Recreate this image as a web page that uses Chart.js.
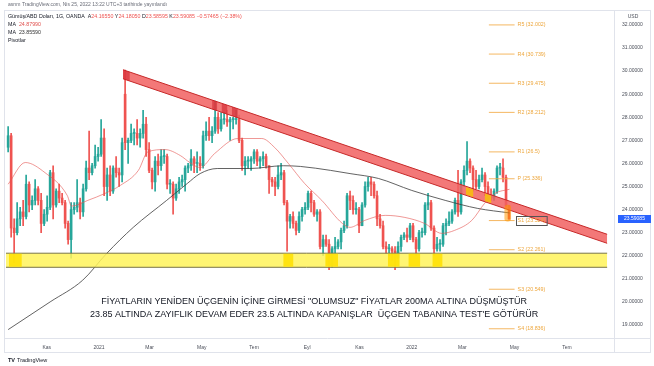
<!DOCTYPE html>
<html><head><meta charset="utf-8">
<script src="https://cdn.jsdelivr.net/npm/chart.js@4.4.1/dist/chart.umd.min.js"></script>
<style>html,body{margin:0;padding:0;background:#fff;}#wrap{width:654px;height:366px;}</style>
</head><body><div id="wrap"><canvas id="c" width="654" height="366"></canvas></div>
<script>
// ---- data; one candle ~ half a week, day 0 = 1 Jan 2021 ----
const firstCandleDay = -106;
const candleStepDays = 3.5;
const opens = [
26.7,27.2,23.2,23.0,23.6,23.9,23.7,25.1,24.2,24.4,
24.9,24.4,23.4,23.8,24.1,25.6,24.2,24.8,24.5,24.3,
23.4,22.7,24.0,24.1,24.3,23.9,24.9,25.8,25.6,25.9,
26.3,26.4,27.1,25.0,25.5,24.8,25.8,25.6,25.5,29.0,
26.9,27.0,27.3,27.3,27.1,27.3,27.7,26.6,25.7,25.2,
26.1,25.9,26.3,26.3,25.1,25.1,24.5,24.9,25.2,25.3,
25.8,25.9,26.2,26.0,26.0,25.9,27.2,27.4,27.2,27.4,
28.0,27.5,27.9,27.9,27.8,27.9,27.9,27.9,27.0,25.9,
26.1,26.1,26.2,26.5,26.1,26.2,26.3,25.9,25.3,25.2,
25.0,25.5,25.6,24.3,23.5,23.7,23.4,23.1,23.7,24.0,
24.1,24.7,24.3,23.8,23.9,22.4,22.7,22.5,21.6,22.3,
22.4,22.6,23.1,23.3,24.6,24.4,24.0,24.0,23.3,24.2,
25.0,25.2,25.1,24.6,23.6,23.3,22.4,22.3,22.3,22.2,
21.9,22.4,22.8,22.9,22.8,23.3,22.7,22.3,23.0,23.0,
24.2,24.3,23.2,22.3,22.5,22.5,23.3,23.4,23.5,23.9,
24.4,23.9,25.2,25.7,26.1,25.8,25.3,25.0,25.3,25.5,
25.0,24.6,24.5,24.8,25.8,25.8,25.4,24.1655];
const highs = [
27.6,27.3,23.6,24.3,24.1,24.4,25.5,25.2,24.6,25.3,
25.0,24.7,24.0,24.6,25.7,25.9,24.9,25.1,24.7,24.4,
23.5,24.3,24.3,25.3,24.5,25.1,26.1,27.4,26.0,26.8,
26.7,27.9,27.5,25.8,25.9,25.9,26.3,25.8,27.1,30.05,
27.1,27.7,27.5,27.9,27.5,28.3,28.0,26.9,25.8,26.3,
26.4,26.6,26.6,26.4,25.3,25.2,25.1,25.4,25.5,25.9,
26.0,26.6,26.3,26.5,26.3,27.4,27.8,28.0,27.6,28.7,
28.2,28.2,28.2,28.3,28.0,28.0,28.3,28.1,27.1,26.3,
26.3,26.3,26.6,26.6,26.3,26.5,26.4,25.9,25.4,25.4,
25.9,26.0,25.7,24.4,23.8,23.9,23.5,23.9,24.1,24.3,
24.8,24.8,24.4,24.0,24.0,22.9,22.9,22.7,22.4,22.8,
22.7,23.2,23.5,24.7,24.8,24.6,24.3,24.1,24.3,25.2,
25.4,25.4,25.2,24.8,23.8,23.5,22.6,22.5,22.4,22.4,
22.6,22.9,23.0,23.2,23.4,23.4,22.8,23.1,23.2,24.3,
24.7,24.4,23.3,22.8,22.7,23.4,23.6,23.9,24.0,24.5,
25.7,25.3,25.9,26.95,26.2,25.9,25.7,25.5,25.8,25.6,
25.2,24.9,24.9,25.9,26.0,26.2,25.5,24.1805];
const lows = [
26.5,22.8,21.7,22.9,23.3,23.3,23.6,23.9,24.0,24.2,
24.2,23.0,23.3,23.5,24.0,23.6,24.1,24.3,24.2,23.2,
22.5,21.9,23.8,23.9,23.6,23.7,24.8,25.3,25.5,25.8,
26.1,26.3,24.6,24.4,24.6,24.7,25.4,25.0,25.2,26.6,
26.0,26.9,26.8,26.8,26.7,27.1,26.3,25.6,24.9,24.8,
25.5,25.7,26.0,24.9,24.7,23.8,24.4,24.7,25.0,24.8,
25.6,25.7,25.6,25.6,25.7,25.8,27.0,27.0,26.9,27.3,
27.3,27.4,27.7,27.6,27.0,27.5,27.7,26.9,25.7,25.5,
25.8,25.7,26.0,25.9,25.8,25.9,25.8,24.7,25.0,24.6,
24.9,25.3,24.2,22.2,23.2,23.2,22.9,23.0,23.5,23.8,
24.0,23.9,23.7,23.5,22.3,22.0,22.4,21.4,21.5,22.1,
22.3,22.3,23.0,23.2,24.0,23.8,23.8,23.0,23.3,24.1,
24.8,24.6,24.5,23.3,23.2,22.3,22.1,22.0,21.8,21.4,
21.9,22.2,22.7,22.6,22.7,22.6,22.0,22.2,22.8,22.9,
24.0,23.1,22.0,22.2,22.2,22.4,22.9,23.3,23.4,23.8,
23.7,23.8,25.0,25.5,25.6,24.8,24.9,24.9,25.2,24.6,
24.5,24.4,24.4,24.7,25.5,25.2,24.1,23.58595];
const closes = [
27.2,23.2,23.0,23.6,23.9,23.7,25.1,24.2,24.4,24.9,
24.4,23.4,23.8,24.1,25.6,24.2,24.8,24.5,24.3,23.4,
22.7,24.0,24.1,24.3,23.9,24.9,25.8,25.6,25.9,26.3,
26.4,27.1,25.0,25.5,24.8,25.8,25.6,25.5,26.9,26.9,
27.0,27.3,27.3,27.1,27.3,27.7,26.6,25.7,25.2,26.1,
25.9,26.3,26.3,25.1,25.1,24.5,24.9,25.2,25.3,25.8,
25.9,26.2,26.0,26.0,25.9,27.2,27.4,27.2,27.4,28.0,
27.5,27.9,27.9,27.8,27.9,27.9,27.9,27.0,25.9,26.1,
26.1,26.2,26.5,26.1,26.2,26.3,25.9,25.3,25.2,25.0,
25.5,25.6,24.3,23.5,23.7,23.4,23.1,23.7,24.0,24.1,
24.7,24.3,23.8,23.9,22.4,22.7,22.5,21.6,22.3,22.4,
22.6,23.1,23.3,24.6,24.4,24.0,24.0,23.3,24.2,25.0,
25.2,25.1,24.6,23.6,23.3,22.4,22.3,22.3,22.2,21.9,
22.4,22.8,22.9,22.8,23.3,22.7,22.3,23.0,23.0,24.2,
24.3,23.2,22.3,22.5,22.5,23.3,23.4,23.5,23.9,24.4,
23.9,25.2,25.7,26.1,25.8,25.3,25.0,25.3,25.5,25.0,
24.6,24.5,24.8,25.8,25.8,25.4,24.1655,23.59085];

const ma50Days = [-106,-86,-63,-37,-32,-13,7,25,46,57,77,95,106,118,135,162,190,205,221,240,260,284,293,310,334,357,380,400,415,435,450,462,479];
const ma50Vals = [25.10,26.04,25.60,24.61,24.15,24.40,24.70,25.05,25.70,26.50,26.60,26.34,26.04,25.82,26.43,27.08,27.08,26.69,26.00,25.13,24.40,23.40,23.23,23.53,23.75,23.66,23.40,22.97,23.10,23.53,24.27,24.70,24.8799];
const ma200Days = [-106,-57,-19,9,40,79,103,118,138,176,215,235,270,293,326,365,404,442,479];
const ma200Vals = [18.80,20.00,20.94,22.10,23.23,24.40,25.13,25.56,25.78,25.78,25.90,25.87,25.70,25.56,25.35,24.83,24.40,24.05,23.8559];

const xTickDays = [-61,0,59,120,181,243,304,365,424,485,546];
const xTickLabels = ['Kas','2021','Mar','May','Tem','Eyl','Kas','2022','Mar','May','Tem'];
const yTickValues = [19,20,21,22,23,24,25,26,27,28,29,30,31,32];

const pivotNames = ['R5','R4','R3','R2','R1','P','S1','S2','S3','S4'];
const pivotValues = [32.002,30.739,29.475,28.212,26.5,25.336,23.524,22.261,20.549,18.836];
const pivotDays = [455,485];

const triangleDays = [28,593];
const triangleTop = [30.06,22.93];
const triangleBottom = [29.67,22.54];
const triangleDark = [[28,36],[132,138],[143,150],[155,162]];
const triangleOrange = [[428,437],[450,458]];

const zoneDays = [-108.5,593];
const zonePrices = [22.11,21.50];
const zoneTouches = [[-105,-90],[215,227],[264,279],[337,351],[361,375],[389,401]];

const markerDay = 477;
const markerRange = [23.50,24.20];

const noteDay = 251;
const notePrices = [20.03,19.45];
const noteLines = [
 'FİYATLARIN YENİDEN ÜÇGENİN İÇİNE GİRMESİ "OLUMSUZ" FİYATLAR 200MA ALTINA DÜŞMÜŞTÜR',
 "23.85 ALTINDA ZAYIFLIK DEVAM EDER 23.5 ALTINDA KAPANIŞLAR  ÜÇGEN TABANINA TEST'E GÖTÜRÜR"];

// ---- build datasets ----
const UP = '#26a69a', DN = '#ef5350';
const days = opens.map((_, i) => firstCandleDay + i * candleStepDays);
const cColors = opens.map((o, i) => closes[i] >= o ? UP : DN);
const datasets = [];

datasets.push({type:'line', label:'MA50', data: ma50Days.map((d,i)=>({x:d,y:ma50Vals[i]})),
  borderColor:'rgba(229,83,80,0.6)', borderWidth:1, pointRadius:0, cubicInterpolationMode:'monotone', order:2});
datasets.push({type:'line', label:'MA200', data: ma200Days.map((d,i)=>({x:d,y:ma200Vals[i]})),
  borderColor:'rgba(60,60,60,0.8)', borderWidth:1, pointRadius:0, cubicInterpolationMode:'monotone', order:2});
datasets.push({type:'bar', label:'wick', data: days.map((d,i)=>({x:d,y:[lows[i],highs[i]]})),
  backgroundColor:cColors, barThickness:1, grouped:false, order:6});
datasets.push({type:'bar', label:'body', data: days.map((d,i)=>({x:d,y:[opens[i],closes[i]]})),
  backgroundColor:cColors, barThickness:2, grouped:false, minBarLength:1, order:5});

pivotValues.forEach((v)=>{
  datasets.push({type:'line', data: pivotDays.map(d=>({x:d,y:v})), borderColor:'rgba(242,170,70,0.85)', borderWidth:1, pointRadius:0, order:3});
});

function addBand(d0,d1,t0,t1,b0,b1,fillColor,lineColor,order){
  datasets.push({type:'line', data:[{x:d0,y:t0},{x:d1,y:t1}], borderColor:lineColor||'rgba(0,0,0,0)', borderWidth:lineColor?1:0, pointRadius:0, fill:false, order});
  datasets.push({type:'line', data:[{x:d0,y:b0},{x:d1,y:b1}], borderColor:lineColor||'rgba(0,0,0,0)', borderWidth:lineColor?1:0, pointRadius:0, fill:'-1', backgroundColor:fillColor, order});
}
// yellow support zone
addBand(zoneDays[0],zoneDays[1],zonePrices[0],zonePrices[0],zonePrices[1],zonePrices[1],'rgba(255,243,90,0.85)','#7a7548',1);
zoneTouches.forEach(([a,b])=> addBand(a,b,zonePrices[0]-0.02,zonePrices[0]-0.02,zonePrices[1]+0.02,zonePrices[1]+0.02,'rgba(255,225,0,0.85)',null,0.5));
// triangle line
addBand(triangleDays[0],triangleDays[1],triangleTop[0],triangleTop[1],triangleBottom[0],triangleBottom[1],'rgba(241,96,96,0.85)','#c62828',1);
const lerp = (arr,d)=> arr[0] + (arr[1]-arr[0])*(d-triangleDays[0])/(triangleDays[1]-triangleDays[0]);
triangleDark.forEach(([a,b])=> addBand(a,b,lerp(triangleTop,a),lerp(triangleTop,b),lerp(triangleBottom,a),lerp(triangleBottom,b),'rgba(205,30,40,0.55)',null,0.5));
triangleOrange.forEach(([a,b])=> addBand(a,b,lerp(triangleTop,a)-0.03,lerp(triangleTop,b)-0.03,lerp(triangleBottom,a)+0.03,lerp(triangleBottom,b)+0.03,'rgba(247,185,20,0.95)',null,0.5));
// orange marker on last candles
datasets.push({type:'bar', data:[{x:markerDay,y:markerRange}], backgroundColor:'rgba(255,152,0,0.55)', barThickness:6, borderRadius:3, borderSkipped:false, grouped:false, order:0});

// ---- overlay texts / frame ----
const FONT = '"Liberation Sans", Arial, sans-serif';
const overlay = {
  id:'overlay',
  afterDraw(chart){
    const ctx = chart.ctx, xs = chart.scales.x, ys = chart.scales.y, ca = chart.chartArea;
    ctx.save();
    ctx.strokeStyle = '#e0e3eb'; ctx.lineWidth = 1;
    ctx.strokeRect(4.5, 10.5, 646, 342);
    ctx.beginPath(); ctx.moveTo(ca.right+0.5, 10); ctx.lineTo(ca.right+0.5, 353);
    ctx.moveTo(4, ca.bottom+0.5); ctx.lineTo(651, ca.bottom+0.5); ctx.stroke();

    ctx.textBaseline = 'middle';
    ctx.font = '5px ' + FONT; ctx.fillStyle = '#6a6d78'; ctx.textAlign = 'left';
    ctx.fillText('asrım TradingView.com, Nis 25, 2022 13:22 UTC+3 tarihinde yayınlandı', 8, 5);

    const n = closes.length - 1;
    const chg = closes[n] - closes[n-1];
    const pct = chg / closes[n-1] * 100;
    const f5 = v => v.toFixed(5);
    const drawSegs = (x, y, segs) => { segs.forEach(([t,c]) => { ctx.fillStyle = c; ctx.fillText(t, x, y); x += ctx.measureText(t).width; }); };
    const dark = '#131722', red = '#ef5350';
    ctx.font = '5.3px ' + FONT;
    drawSegs(8, 17, [['Gümüş/ABD Doları, 1G, OANDA  ', dark], ['A', dark], [f5(opens[n]) + ' ', red], ['Y', dark], [f5(highs[n]) + ' ', red],
      ['D', dark], [f5(lows[n]) + ' ', red], ['K', dark], [f5(closes[n]) + ' ', red], [(chg<0?'−':'+') + Math.abs(chg).toFixed(5) + ' (' + (pct<0?'−':'+') + Math.abs(pct).toFixed(2) + '%)', red]]);
    drawSegs(8, 25, [['MA  ', dark], [f5(ma50Vals[ma50Vals.length-1]), '#e0504d']]);
    drawSegs(8, 33, [['MA  ', dark], [f5(ma200Vals[ma200Vals.length-1]), '#333']]);
    drawSegs(8, 40.5, [['Pivotlar', dark]]);

    // pivot labels
    ctx.font = '5.3px ' + FONT; ctx.fillStyle = '#eda63c';
    pivotValues.forEach((v,i)=>{
      const x = xs.getPixelForValue(pivotDays[1]) + 3, y = ys.getPixelForValue(v);
      const t = pivotNames[i] + ' (' + v + ')';
      ctx.fillStyle = '#eda63c'; ctx.fillText(t, x, y);
      if (pivotNames[i] === 'S1') { ctx.strokeStyle = '#555'; ctx.lineWidth = 1; ctx.strokeRect(Math.round(x)-1.5, Math.round(y)-4.5, ctx.measureText(t).width + 3, 9); }
    });

    // annotation text
    ctx.font = '9px ' + FONT; ctx.fillStyle = '#131722'; ctx.textAlign = 'center';
    noteLines.forEach((t,i)=> ctx.fillText(t, xs.getPixelForValue(noteDay), ys.getPixelForValue(notePrices[i])));

    // axis currency + last price tag
    ctx.font = '5px ' + FONT; ctx.fillStyle = '#4a4e59';
    ctx.fillText('USD', 633, 17);
    const py = ys.getPixelForValue(closes[n]);
    ctx.fillStyle = '#2962ff'; ctx.fillRect(ca.right + 4, Math.round(py) - 4, 33, 8);
    ctx.fillStyle = '#fff'; ctx.fillText(f5(closes[n]), ca.right + 20.5, py);

    // logo
    ctx.textAlign = 'left'; ctx.font = 'bold 5.5px ' + FONT; ctx.fillStyle = '#131722';
    ctx.fillText('TV', 8, 360); ctx.font = '5.5px ' + FONT; ctx.fillText('TradingView', 17, 360);
    ctx.restore();
  }
};

Chart.defaults.font.family = FONT;
new Chart(document.getElementById('c'), {
  type:'bar',
  data:{datasets},
  options:{
    responsive:false, animation:false, devicePixelRatio:1,
    layout:{padding:{left:6, top:10, right:0, bottom:13}},
    plugins:{legend:{display:false}, tooltip:{enabled:false}},
    scales:{
      x:{type:'linear', min:-108.5, max:601, offset:false,
        grid:{display:false, drawTicks:false}, border:{display:false},
        afterBuildTicks:s=>{ s.ticks = xTickDays.map(v=>({value:v})); },
        afterFit:s=>{ s.height = 15; },
        ticks:{autoSkip:false, maxRotation:0, padding:7, color:'#4a4e59', font:{size:5},
          callback:v=> xTickLabels[xTickDays.indexOf(v)]}},
      y:{position:'right', min:18.436, max:32.605,
        grid:{display:false, drawTicks:false}, border:{display:false},
        afterBuildTicks:s=>{ s.ticks = yTickValues.map(v=>({value:v})); },
        afterFit:s=>{ s.width = 40; },
        ticks:{autoSkip:false, padding:8, crossAlign:'center', color:'#4a4e59', font:{size:5},
          callback:v=> Number(v).toFixed(5)}}
    }
  },
  plugins:[overlay]
});
</script></body></html>
